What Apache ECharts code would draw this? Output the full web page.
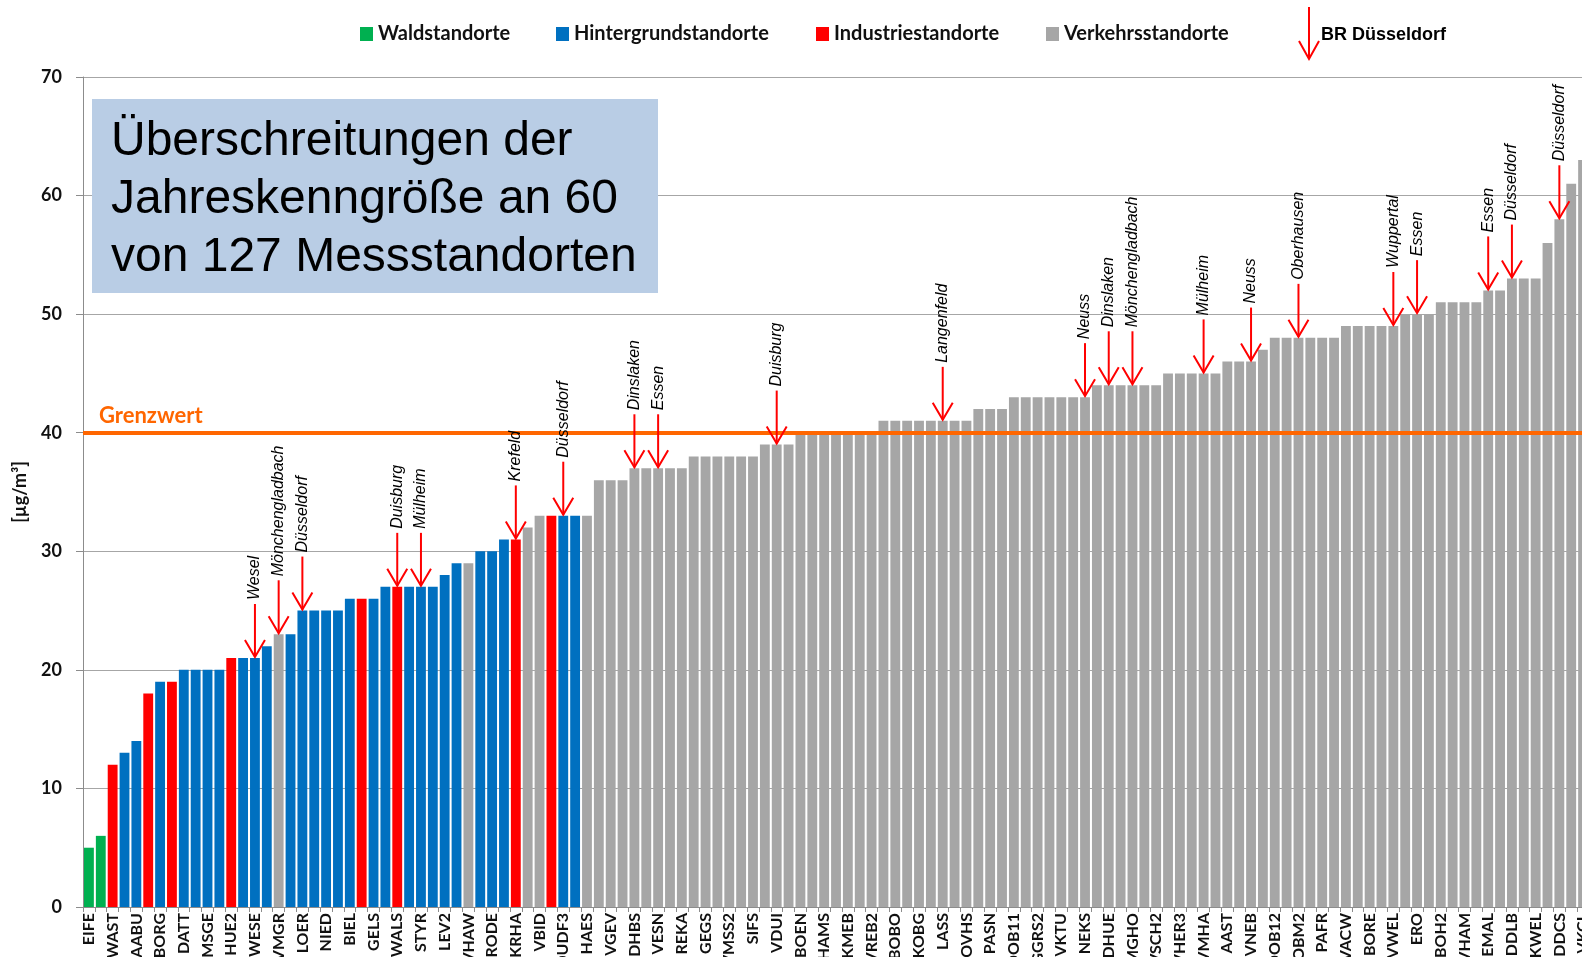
<!DOCTYPE html>
<html><head><meta charset="utf-8">
<script src="https://cdn.jsdelivr.net/npm/echarts@6/dist/echarts.min.js"></script>
<style>html,body{margin:0;padding:0;background:#fff}#c{width:1582px;height:957px}</style>
</head><body><div id="c"></div>
<script>
// Labels shown under every second bar (even indices)
const shownLabels = ['EIFE','WAST','AABU','BORG','DATT','MSGE','HUE2','WESE','VMGR','LOER','NIED','BIEL','GELS','WALS','STYR','LEV2','VHAW','RODE','KRHA','VBID','DUDF3','HAES','VGEV','DHBS','VESN','REKA','GEGS','VMSS2','SIFS','VDUI','BOEN','HAMS','KMEB','VREB2','BOBO','KOBG','LASS','OVHS','PASN','DOB11','GGRS2','VKTU','NEKS','DHUE','MGHO','VSCH2','VHER3','VMHA','AAST','VNEB','DOB12','OBM2','PAFR','VACW','BORE','VWEL','ERO','VBOH2','VHAM','EMAL','DDLB','KWEL','DDCS','VKCL'];

// NO2 annual mean values [µg/m³], 127 stations
const values = [
  5,6,12,13,14,18,19,19,20,20,
  20,20,21,21,21,22,23,23,25,25,
  25,25,26,26,26,27,27,27,27,27,
  28,29,29,30,30,31,31,32,33,33,
  33,33,33,36,36,36,37,37,37,37,
  37,38,38,38,38,38,38,39,39,39,
  40,40,40,40,40,40,40,41,41,41,
  41,41,41,41,41,42,42,42,43,43,
  43,43,43,43,43,44,44,44,44,44,
  44,45,45,45,45,45,46,46,46,47,
  48,48,48,48,48,48,49,49,49,49,
  49,50,50,50,51,51,51,51,52,52,
  53,53,53,56,58,61,63
];

// Station type per bar: W=Wald, H=Hintergrund, I=Industrie, V=Verkehr
const stationTypes = (
  'WWIHHIHIHH' + 'HHIHHHVHHH' + 'HHHIHHIHHH' + 'HHVHHHIVVI' + 'HHVVVVVVVV' +
  'VVVVVVVVVV' + 'VVVVVVVVVV' + 'VVVVVVVVVV' + 'VVVVVVVVVV' + 'VVVVVVVVVV' +
  'VVVVVVVVVV' + 'VVVVVVVVVV' + 'VVVVVVV'
).split('');

const typeCodes = ['W','H','I','V'];
const typeNames = ['Waldstandorte','Hintergrundstandorte','Industriestandorte','Verkehrsstandorte'];
const typeColors = ['#00b050','#0070c0','#ff0000','#a6a6a6'];

// BR Düsseldorf arrows: [bar index, city]
const arrows = [
  [14,'Wesel'],[16,'Mönchengladbach'],[18,'Düsseldorf'],[26,'Duisburg'],[28,'Mülheim'],
  [36,'Krefeld'],[40,'Düsseldorf'],[46,'Dinslaken'],[48,'Essen'],[58,'Duisburg'],
  [72,'Langenfeld'],[84,'Neuss'],[86,'Dinslaken'],[88,'Mönchengladbach'],[94,'Mülheim'],
  [98,'Neuss'],[102,'Oberhausen'],[110,'Wuppertal'],[112,'Essen'],[118,'Essen'],
  [120,'Düsseldorf'],[124,'Düsseldorf']
];

const limitValue = 40;
const yTicks = [0,10,20,30,40,50,60,70];
const titleLines = ['Überschreitungen der','Jahreskenngröße an 60','von 127 Messstandorten'];

const categories = values.map((v, i) => (i % 2 === 0 ? shownLabels[i / 2] : ''));

const chart = echarts.init(document.getElementById('c'));
const legendLefts = [360, 556, 816, 1046];

const barSeries = typeCodes.map((code, k) => ({
  name: typeNames[k],
  type: 'bar',
  barGap: '-100%',
  barCategoryGap: '17%',
  itemStyle: { color: typeColors[k] },
  data: values.map((v, i) => (stationTypes[i] === code ? v : '-')),
  z: 2
}));
barSeries[3].markLine = {
  silent: true,
  symbol: ['none','none'],
  data: [{ yAxis: limitValue }],
  lineStyle: { color: '#ff6600', width: 4, type: 'solid' },
  label: {
    show: true, position: 'insideStartTop', formatter: 'Grenzwert',
    color: '#ff6600', fontWeight: 'bold', fontSize: 22, fontFamily: 'Lato',
    distance: [16, 6]
  },
  z: 5
};

const arrowSeries = {
  type: 'custom',
  name: 'BR Düsseldorf',
  clip: false,
  z: 6,
  encode: { x: 0, y: 1 },
  data: arrows.map(a => [a[0], values[a[0]]]),
  renderItem: function (params, api) {
    const p = api.coord([api.value(0), api.value(1)]);
    const x = p[0], tip = p[1] - 1, top = tip - 53;
    return {
      type: 'group',
      children: [
        { type: 'line', shape: { x1: x, y1: top, x2: x, y2: tip }, style: { stroke: '#ff0000', lineWidth: 2 } },
        { type: 'polyline', shape: { points: [[x - 10, tip - 17], [x, tip], [x + 10, tip - 17]] }, style: { stroke: '#ff0000', lineWidth: 2, fill: null } },
        { type: 'text', x: x, y: top - 4, rotation: Math.PI / 2,
          style: { text: arrows[params.dataIndex][1], font: 'italic 16px "Liberation Sans", Arial, sans-serif', fill: '#000', align: 'left', verticalAlign: 'middle' } }
      ]
    };
  }
};

const option = {
  animation: false,
  backgroundColor: '#fff',
  legend: typeNames.map((n, k) => ({
    data: [n], left: legendLefts[k], top: 24, padding: 0,
    itemWidth: 13, itemHeight: 14, icon: 'rect', selectedMode: false,
    textStyle: { fontFamily: 'Lato', fontWeight: 'bold', fontSize: 20, color: '#111' }
  })),
  grid: { left: 83, top: 77, bottom: 50, width: 1506, containLabel: false, outerBoundsMode: 'none' },
  xAxis: {
    type: 'category',
    data: categories,
    axisLine: { lineStyle: { color: '#8c8c8c', width: 1 } },
    axisTick: { show: true, interval: 0, length: 5, lineStyle: { color: '#8c8c8c' } },
    axisLabel: { interval: 0, rotate: 90, margin: 6, fontFamily: 'Lato', fontWeight: 'bold', fontSize: 16, color: '#111' }
  },
  yAxis: {
    type: 'value', min: yTicks[0], max: yTicks[yTicks.length - 1], interval: 10,
    name: '[µg/m³]', nameLocation: 'middle', nameRotate: 90, nameGap: 54,
    nameTextStyle: { fontFamily: 'Lato', fontWeight: 'bold', fontSize: 18, color: '#111' },
    axisLine: { show: true, lineStyle: { color: '#8c8c8c', width: 1 } },
    axisTick: { show: true, length: 7, lineStyle: { color: '#8c8c8c' } },
    axisLabel: { margin: 21, fontFamily: 'Lato', fontWeight: 'bold', fontSize: 18, color: '#111' },
    splitLine: { lineStyle: { color: '#a6a6a6', width: 1 } }
  },
  graphic: [
    { type: 'rect', shape: { x: 92, y: 99, width: 566, height: 194 }, style: { fill: '#b9cde5' }, z: 10 },
    ...titleLines.map((t, i) => ({
      type: 'text', x: 111, y: 142 + i * 58, z: 11,
      style: { text: t, font: '48px "Liberation Sans", Arial, sans-serif', fill: '#000', verticalAlign: 'middle' }
    })),
    { type: 'line', shape: { x1: 1309, y1: 7, x2: 1309, y2: 59 }, style: { stroke: '#ff0000', lineWidth: 2 }, z: 10 },
    { type: 'polyline', shape: { points: [[1299, 41], [1309, 59], [1319, 41]] }, style: { stroke: '#ff0000', lineWidth: 2, fill: null }, z: 10 },
    { type: 'text', x: 1321, y: 35, z: 10,
      style: { text: 'BR Düsseldorf', font: 'bold 18px "Liberation Sans", Arial, sans-serif', fill: '#000', verticalAlign: 'middle' } }
  ],
  series: [...barSeries, arrowSeries]
};
chart.setOption(option);
</script>
</body></html>
